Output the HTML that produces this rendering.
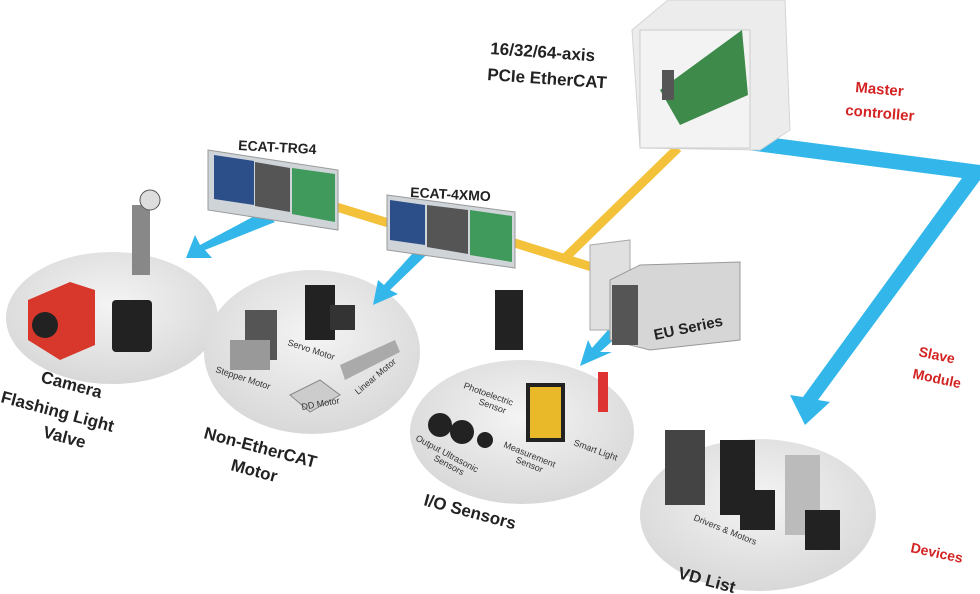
<!DOCTYPE html>
<html><head><style>
html,body{margin:0;padding:0;background:#fff;}
svg{display:block;font-family:"Liberation Sans",sans-serif;}
.l{font-weight:bold;fill:#222;}
.r{font-weight:bold;fill:#d42323;}
.s{fill:#333;font-size:9px;}
</style></head><body>
<svg width="980" height="594" viewBox="0 0 980 594">
<defs>
<radialGradient id="dg" cx="50%" cy="40%" r="60%"><stop offset="0" stop-color="#f4f4f4"/><stop offset="1" stop-color="#d8d8d8"/></radialGradient>
</defs>
<ellipse cx="112" cy="318" rx="106" ry="66" fill="url(#dg)"/>
<ellipse cx="312" cy="352" rx="108" ry="82" fill="url(#dg)"/>
<ellipse cx="522" cy="432" rx="112" ry="72" fill="url(#dg)"/>
<ellipse cx="758" cy="515" rx="118" ry="76" fill="url(#dg)"/>
<g stroke="#f3c13a" stroke-width="9" fill="none">
<line x1="330" y1="205" x2="395" y2="225"/>
<line x1="505" y1="240" x2="595" y2="268"/>
<line x1="678" y1="148" x2="565" y2="258"/>
</g>
<g fill="#33b7ea">
<polygon points="752,135 980,165 980,180 818,400 830,402 805,425 790,395 803,397 962,178 748,150"/>
<polygon points="262,212 275,222 205,250 212,258 186,258 195,235 200,245"/>
<polygon points="432,232 446,236 390,290 398,294 373,305 378,280 384,285"/>
<polygon points="608,330 618,336 600,352 612,352 580,366 588,340 592,348"/>
</g>
<polygon points="632,30 668,0 785,0 790,130 760,150 640,148" fill="#ececec" stroke="#d4d4d4"/>
<rect x="640" y="30" width="110" height="118" fill="#f3f3f3" stroke="#ccc"/>
<polygon points="660,90 742,30 748,95 680,125" fill="#3d8a4a"/>
<rect x="662" y="70" width="12" height="30" fill="#555"/>
<g>
<polygon points="208,150 338,170 338,230 208,210" fill="#cfd4d8" stroke="#999"/>
<polygon points="214,155 254,161 254,205 214,199" fill="#2c4f8a"/>
<polygon points="292,168 335,174 335,222 292,214" fill="#3f9a5c"/>
<polygon points="255,162 290,168 290,212 255,206" fill="#555"/>
</g>
<g>
<polygon points="387,195 515,212 515,268 387,250" fill="#cfd4d8" stroke="#999"/>
<polygon points="390,200 425,205 425,245 390,240" fill="#2c4f8a"/>
<polygon points="470,210 512,216 512,262 470,255" fill="#3f9a5c"/>
<polygon points="427,205 468,210 468,254 427,247" fill="#555"/>
</g>
<polygon points="590,245 630,240 630,330 590,330" fill="#e0e0e0" stroke="#aaa"/>
<polygon points="610,280 640,265 740,262 740,340 650,350 610,340" fill="#d6d6d6" stroke="#999"/>
<rect x="612" y="285" width="26" height="60" fill="#555"/>
<polygon points="28,300 70,282 95,290 95,345 60,360 28,340" fill="#d8382c"/>
<circle cx="45" cy="325" r="13" fill="#222"/>
<rect x="112" y="300" width="40" height="52" rx="4" fill="#222"/>
<rect x="132" y="205" width="18" height="70" fill="#888"/>
<circle cx="150" cy="200" r="10" fill="#ddd" stroke="#555"/>
<rect x="245" y="310" width="32" height="50" fill="#555"/>
<rect x="230" y="340" width="40" height="30" fill="#999"/>
<rect x="305" y="285" width="30" height="55" fill="#222"/>
<rect x="330" y="305" width="25" height="25" fill="#333"/>
<polygon points="290,395 320,380 340,395 310,412" fill="#ccc" stroke="#888"/>
<polygon points="340,365 395,340 400,352 345,380" fill="#aaa"/>
<text class="s" transform="translate(287,345) rotate(18)">Servo Motor</text>
<text class="s" transform="translate(215,372) rotate(18)">Stepper Motor</text>
<text class="s" transform="translate(302,410) rotate(-10)">DD Motor</text>
<text class="s" transform="translate(358,395) rotate(-40)">Linear Motor</text>
<rect x="495" y="290" width="28" height="60" fill="#222"/>
<rect x="528" y="385" width="35" height="55" fill="#e9b92a" stroke="#222" stroke-width="4"/>
<rect x="598" y="372" width="10" height="40" fill="#dd3333"/>
<circle cx="440" cy="425" r="12" fill="#222"/><circle cx="462" cy="432" r="12" fill="#222"/><circle cx="485" cy="440" r="8" fill="#222"/>
<text class="s" transform="translate(463,388) rotate(20)">Photoelectric</text>
<text class="s" transform="translate(478,404) rotate(20)">Sensor</text>
<text class="s" transform="translate(415,440) rotate(28)">Output Ultrasonic</text>
<text class="s" transform="translate(433,460) rotate(28)">Sensors</text>
<text class="s" transform="translate(503,447) rotate(22)">Measurement</text>
<text class="s" transform="translate(515,462) rotate(22)">Sensor</text>
<text class="s" transform="translate(573,445) rotate(20)">Smart Light</text>
<rect x="665" y="430" width="40" height="75" fill="#444"/>
<rect x="720" y="440" width="35" height="75" fill="#222"/>
<rect x="785" y="455" width="35" height="80" fill="#bbb"/>
<rect x="740" y="490" width="35" height="40" fill="#222"/>
<rect x="805" y="510" width="35" height="40" fill="#222"/>
<text class="s" transform="translate(693,520) rotate(22)">Drivers &amp; Motors</text>
<text class="l" font-size="17" transform="translate(490,54) rotate(4)">16/32/64-axis</text>
<text class="l" font-size="17" transform="translate(487,80) rotate(4)">PCIe EtherCAT</text>
<text class="l" font-size="14" transform="translate(238,150) rotate(3)">ECAT-TRG4</text>
<text class="l" font-size="14" transform="translate(410,197) rotate(3)">ECAT-4XMO</text>
<text class="l" font-size="15" transform="translate(655,340) rotate(-12)">EU Series</text>
<text class="r" font-size="15" transform="translate(855,92) rotate(5)">Master</text>
<text class="r" font-size="15" transform="translate(845,115) rotate(5)">controller</text>
<text class="r" font-size="14" transform="translate(918,356) rotate(12)">Slave</text>
<text class="r" font-size="14" transform="translate(912,378) rotate(12)">Module</text>
<text class="r" font-size="14" transform="translate(910,552) rotate(12)">Devices</text>
<g class="l" font-size="17">
<text transform="translate(40,382) rotate(15)">Camera</text>
<text transform="translate(0,402) rotate(15)">Flashing Light</text>
<text transform="translate(42,437) rotate(15)">Valve</text>
<text transform="translate(203,438) rotate(15)">Non-EtherCAT</text>
<text transform="translate(230,470) rotate(15)">Motor</text>
<text transform="translate(423,505) rotate(15)">I/O Sensors</text>
<text transform="translate(677,578) rotate(15)">VD List</text>
</g>
</svg>
</body></html>
